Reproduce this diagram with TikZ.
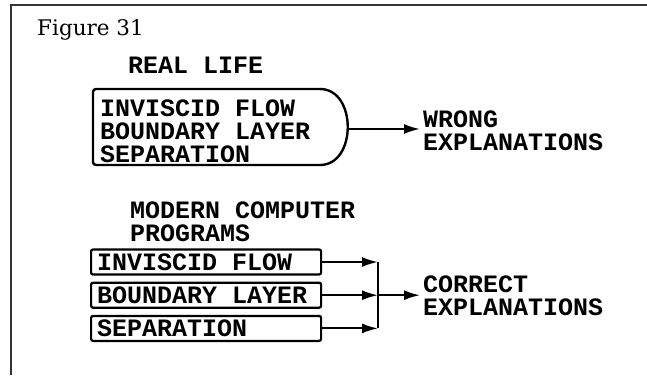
\documentclass[tikz,border=0pt]{standalone}
\usepackage{fontspec}
\newfontfamily\plotter{Liberation Mono}
\newfontfamily\titlefont{DejaVu Serif}
\usetikzlibrary{arrows.meta, positioning}
\tikzset{
    caps/.style={font=\plotter\bfseries\fontsize{25}{23}\selectfont, inner sep=0pt, align=left},
    pbox/.style={caps, draw, line width=2.2pt, rounded corners=2pt, minimum width=230pt, minimum height=25pt,
        text width=218pt, inner xsep=6pt, execute at begin node={\spaceskip=15pt\relax}},
    link/.style={line width=2pt, -{Latex[length=16pt, width=10pt]}},
}

\begin{document}
\begin{tikzpicture}[x=1pt, y=-1pt]
        \useasboundingbox (0,0) rectangle (647,375);
        \draw[line width=1.3pt, black!80] (647,5) -- (11,5) -- (11,375);
        \node[anchor=base west, inner sep=0pt, font=\titlefont\fontsize{21.5}{21.5}\selectfont] (fig) at (37,35) {Figure 31};

        % real life: one box feeding the wrong answer
        \node[caps, anchor=base west] (real) at (128,73) {REAL LIFE};
        \node[caps, anchor=north west] (phys) at (100,100) {INVISCID FLOW\\BOUNDARY LAYER\\SEPARATION};
        \draw[line width=2.4pt, rounded corners=3pt] (320,89) -- (93,89) -- (93,165) -- (320,165);
        \draw[line width=2.4pt] (320,165) .. controls (357,165) and (357,89) .. (320,89);
        \coordinate (tip) at (348,129);
        \node[caps, anchor=west] (wrong) at (423,131) {WRONG\\EXPLANATIONS};
        \draw[link, shorten >=3pt] (tip) -- (tip -| wrong.west);

        % computer programs: three boxes joined on a bus
        \node[caps, anchor=north west] (prog) at (130,202) {MODERN COMPUTER\\PROGRAMS};
        \node[pbox, anchor=west] (b1) at (90,262) {INVISCID FLOW};
        \node[pbox, below=6pt of b1] (b2) {BOUNDARY LAYER};
        \node[pbox, below=6pt of b2] (b3) {SEPARATION};
        \node[caps, anchor=west] (cor) at (423,296) {CORRECT\\EXPLANATIONS};
        \coordinate (bus) at (378,296);
        \draw[line width=2pt, rounded corners=3pt] (b1.east -| bus) -- (b3.east -| bus);
        \draw[link] (b1.east) -- (b1.east -| bus);
        \draw[link] (b2.east) -- (b2.east -| bus);
        \draw[link] (b3.east) -- (b3.east -| bus);
        \draw[link, shorten >=3pt] (b2.east -| bus) -- (b2.east -| cor.west);
\end{tikzpicture}
\end{document}
